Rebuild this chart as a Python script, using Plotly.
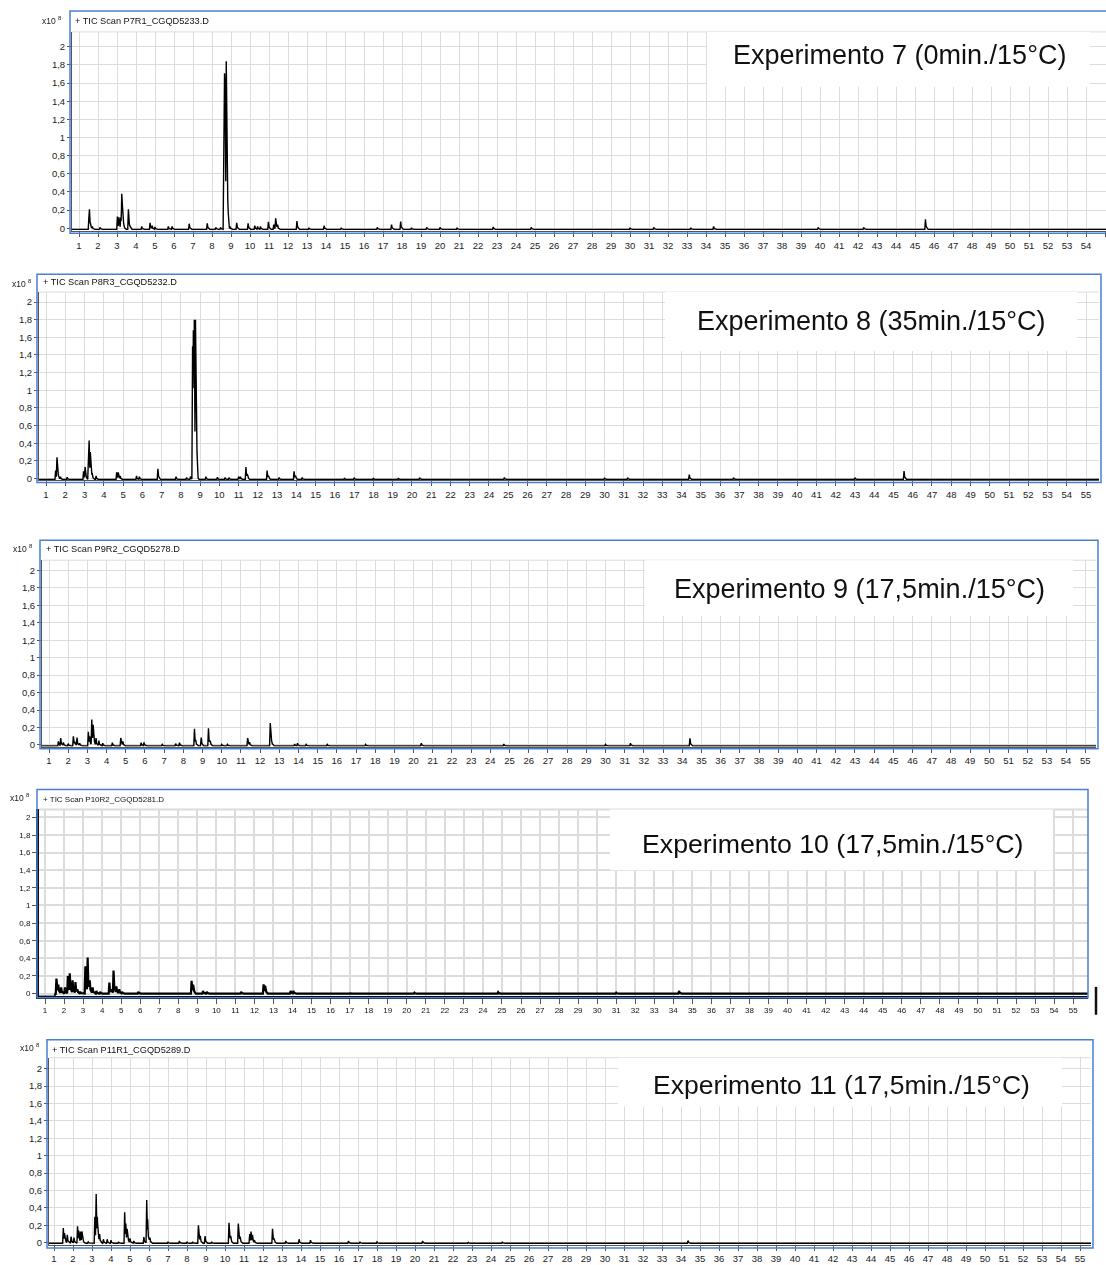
import numpy as np
import plotly.graph_objects as go

W, H = 1106, 1265

# ---------------- data ----------------
minutes = list(range(1, 56))
intensity_ticks = [0, 0.2, 0.4, 0.6, 0.8, 1.0, 1.2, 1.4, 1.6, 1.8, 2.0]
intensity_labels = ["0", "0,2", "0,4", "0,6", "0,8", "1", "1,2", "1,4", "1,6", "1,8", "2"]

scan_names = [
    "+ TIC Scan P7R1_CGQD5233.D",
    "+ TIC Scan P8R3_CGQD5232.D",
    "+ TIC Scan P9R2_CGQD5278.D",
    "+ TIC Scan P10R2_CGQD5281.D",
    "+ TIC Scan P11R1_CGQD5289.D",
]
experiment_labels = [
    "Experimento 7 (0min./15°C)",
    "Experimento 8 (35min./15°C)",
    "Experimento 9 (17,5min./15°C)",
    "Experimento 10 (17,5min./15°C)",
    "Experimento 11 (17,5min./15°C)",
]

# peak apexes: retention time (min) and abundance (x10^8)
p7_rt = [1.52, 1.55, 1.60, 1.70, 2.10, 3.02, 3.10, 3.20, 3.25, 3.28, 3.35, 3.60, 3.65, 4.30, 4.74,
         4.85, 5.00, 5.70, 5.90, 6.80, 7.75, 8.20, 8.45, 8.62, 8.66, 8.69, 8.75, 8.82, 8.95, 9.30,
         9.90, 10.25, 10.40, 10.55, 10.97, 11.25, 11.35, 11.45, 12.47, 13.10, 13.90, 14.80, 16.70,
         17.45, 17.93, 18.50, 19.30, 20.00, 20.90, 22.80, 24.80, 30.00, 31.25, 33.20, 34.40, 39.90,
         42.30, 45.55]
p7_h = [0.12, 0.21, 0.06, 0.02, 0.01, 0.13, 0.12, 0.12, 0.38, 0.27, 0.05, 0.21, 0.04, 0.02, 0.06,
        0.03, 0.015, 0.02, 0.02, 0.05, 0.055, 0.01, 0.01, 1.50, 1.71, 1.55, 1.84, 0.06, 0.02, 0.06,
        0.055, 0.03, 0.02, 0.02, 0.07, 0.04, 0.11, 0.04, 0.08, 0.005, 0.03, 0.005, 0.01,
        0.04, 0.075, 0.005, 0.01, 0.01, 0.005, 0.015, 0.01, 0.005, 0.01, 0.005, 0.02, 0.01,
        0.01, 0.10]

p8_rt = [1.50, 1.57, 1.62, 1.75, 2.10, 2.95, 3.03, 3.20, 3.24, 3.30, 3.40, 3.60, 4.67, 4.75, 4.85,
         5.70, 5.85, 6.81, 7.75, 8.30, 8.50, 8.61, 8.65, 8.70, 8.76, 8.82, 9.30, 9.90, 10.30, 10.50,
         11.00, 11.10, 11.38, 11.45, 12.48, 12.55, 13.10, 13.88, 13.95, 14.30, 16.50, 17.00, 18.00,
         19.30, 20.40, 24.80, 30.00, 31.20, 34.40, 36.70, 43.00, 45.55]
p8_h = [0.09, 0.24, 0.05, 0.02, 0.015, 0.08, 0.13, 0.15, 0.43, 0.30, 0.06, 0.03, 0.07, 0.07, 0.03,
        0.03, 0.02, 0.11, 0.02, 0.01, 0.02, 1.50, 1.68, 1.80, 1.80, 0.07, 0.02, 0.015, 0.01, 0.01,
        0.02, 0.02, 0.13, 0.05, 0.09, 0.03, 0.01, 0.08, 0.03, 0.01, 0.005, 0.01, 0.005,
        0.005, 0.01, 0.01, 0.008, 0.01, 0.045, 0.01, 0.01, 0.083]

p9_rt = [1.49, 1.61, 1.75, 2.00, 2.27, 2.35, 2.46, 2.60, 3.05, 3.12, 3.23, 3.30, 3.45, 3.60, 3.80,
         4.30, 4.74, 4.85, 5.80, 5.95, 6.90, 7.60, 7.80, 8.58, 8.65, 8.93, 9.31, 9.40, 10.00, 10.30,
         11.35, 11.45, 12.53, 12.60, 13.80, 13.95, 14.40, 15.50, 17.50, 20.40, 24.70, 30.00, 31.30,
         34.40]
p9_h = [0.04, 0.08, 0.03, 0.015, 0.10, 0.03, 0.085, 0.02, 0.15, 0.10, 0.29, 0.23, 0.08, 0.05, 0.02,
        0.025, 0.08, 0.04, 0.025, 0.03, 0.005, 0.015, 0.025, 0.185, 0.05, 0.085, 0.19, 0.05, 0.005, 0.005,
        0.08, 0.03, 0.25, 0.05, 0.01, 0.02, 0.005, 0.005, 0.005, 0.02, 0.01, 0.005, 0.02,
        0.075]

p10_rt = [1.60, 1.70, 1.85, 2.05, 2.20, 2.30, 2.45, 2.60, 2.70, 2.85, 3.12, 3.24, 3.35, 3.50, 3.70,
          3.90, 4.38, 4.50, 4.60, 4.75, 4.90, 5.05, 5.90, 8.70, 8.78, 9.30, 9.50, 11.30, 12.48, 12.56,
          13.90, 14.05, 17.00, 20.40, 24.80, 31.00, 34.30]
p10_h = [0.17, 0.10, 0.07, 0.07, 0.20, 0.23, 0.15, 0.13, 0.05, 0.02, 0.31, 0.41, 0.15, 0.07, 0.03,
         0.02, 0.125, 0.05, 0.26, 0.08, 0.05, 0.02, 0.02, 0.145, 0.10, 0.03, 0.02, 0.02, 0.105, 0.09,
         0.03, 0.03, 0.005, 0.01, 0.015, 0.01, 0.03]

p11_rt = [1.49, 1.55, 1.70, 1.90, 2.05, 2.24, 2.30, 2.40, 2.47, 2.55, 2.80, 3.15, 3.22, 3.28, 3.40,
          3.60, 3.80, 4.00, 4.40, 4.72, 4.78, 4.85, 5.00, 5.20, 5.73, 5.88, 5.93, 6.05, 7.00, 7.60,
          8.00, 8.30, 8.60, 8.70, 8.95, 9.30, 10.21, 10.30, 10.70, 10.80, 11.30, 11.37, 11.45, 11.55,
          12.50, 12.58, 13.20, 13.90, 14.50, 16.50, 17.10, 18.00, 20.40, 22.80, 24.60, 34.37]
p11_h = [0.17, 0.11, 0.09, 0.07, 0.06, 0.19, 0.14, 0.13, 0.13, 0.02, 0.01, 0.30, 0.56, 0.30, 0.10,
         0.04, 0.04, 0.03, 0.01, 0.35, 0.22, 0.16, 0.05, 0.02, 0.065, 0.49, 0.27, 0.06, 0.01, 0.02,
         0.01, 0.01, 0.20, 0.08, 0.076, 0.01, 0.23, 0.08, 0.22, 0.07, 0.10, 0.13, 0.09, 0.03,
         0.16, 0.05, 0.02, 0.04, 0.03, 0.02, 0.01, 0.01, 0.02, 0.005, 0.01, 0.025]

# baseline level of each run (time, abundance)
p7_base_t, p7_base_v = [0.5, 55.5], [-0.012, -0.012]
p8_base_t, p8_base_v = [0.5, 55.5], [-0.012, -0.012]
p9_base_t, p9_base_v = [0.5, 55.5], [-0.011, -0.011]
p10_base_t, p10_base_v = [0.5, 1.50, 1.55, 55.5], [-0.035, -0.035, 0.0, 0.0]
p11_base_t, p11_base_v = [0.5, 55.5], [-0.006, -0.006]

runs = [
    (p7_rt, p7_h, p7_base_t, p7_base_v),
    (p8_rt, p8_h, p8_base_t, p8_base_v),
    (p9_rt, p9_h, p9_base_t, p9_base_v),
    (p10_rt, p10_h, p10_base_t, p10_base_v),
    (p11_rt, p11_h, p11_base_t, p11_base_v),
]

# ---------------- panel geometry (pixels) ----------------
# frame: blue box; plot: grid area; x1/ppm: pixel of minute 1 and px per minute;
# y0/ppu: pixel of zero abundance and px per unit
panels = [
    dict(frame=(70, 11, 1108, 234), plot=(72, 32, 1106, 232), x1=79, ppm=19.0, y0=229.0, ppu=91.0,
         head=(73, 21), mult=(64, 21), box=(707, 32, 1090, 87), label=(899, 55), lsize=27),
    dict(frame=(37, 275, 1101, 484), plot=(39, 293, 1099, 482), x1=46, ppm=19.26, y0=480.0, ppu=88.5,
         head=(41, 283), mult=(34, 284), box=(665, 293, 1077, 352), label=(871, 322), lsize=27),
    dict(frame=(40, 542, 1098, 751), plot=(42, 562, 1096, 749), x1=49, ppm=19.19, y0=747.3, ppu=87.5,
         head=(44, 551), mult=(35, 550), box=(645, 562, 1073, 618), label=(859, 591), lsize=27),
    dict(frame=(37, 792, 1088, 1001), plot=(39, 812, 1088, 999), x1=45, ppm=19.04, y0=996.7, ppu=88.35,
         head=(41, 802), mult=(32, 800), box=(610, 812, 1053, 873), label=(833, 847), lsize=26.7),
    dict(frame=(47, 1043, 1093, 1252), plot=(49, 1061, 1091, 1249), x1=54, ppm=19.0, y0=1246.7, ppu=87.3,
         head=(50, 1053), mult=(42, 1051), box=(618, 1061, 1062, 1110), label=(841, 1088), lsize=26.5),
]

BLUE = "#4a7ed6"
GRID = "#dcdcdc"
FONT = "Liberation Sans, Arial, sans-serif"
SOFT_PANEL = 3  # the fourth run was captured at low resolution


def px(x):
    return x / W


def py(y):
    return 1 - y / H


def chromatogram(rt, h, base_t, base_v, t_start, t_end):
    """Polyline through the peak apexes; each peak is a sharp tailing spike."""
    def base(x):
        return float(np.interp(x, base_t, base_v))

    spikes = []
    xs = {t_start, t_end, *base_t}
    for t, v in zip(rt, h):
        b = base(t)
        sx = [t - 0.035, t, t + 0.035, t + 0.14]
        sy = [b, v, b + 0.3 * (v - b), b]
        spikes.append((sx, sy))
        xs.update(sx)
    xs = sorted(x for x in xs if t_start <= x <= t_end)
    ys = []
    for x in xs:
        y = base(x)
        for sx, sy in spikes:
            if sx[0] <= x <= sx[-1]:
                y = max(y, float(np.interp(x, sx, sy)))
        ys.append(y)
    return xs, ys


fig = go.Figure()
shapes, annotations = [], []

for i, (p, run) in enumerate(zip(panels, runs)):
    k = "" if i == 0 else str(i + 1)
    soft = i == SOFT_PANEL
    L, T, R, B = p["plot"]
    xr = [1 + (L - p["x1"]) / p["ppm"], 1 + (R - p["x1"]) / p["ppm"]]
    yr = [(p["y0"] - B) / p["ppu"], (p["y0"] - T) / p["ppu"]]

    xs, ys = chromatogram(*run, xr[0], xr[1])
    fig.add_trace(go.Scatter(
        x=xs, y=ys, mode="lines", xaxis="x" + k, yaxis="y" + k,
        line=dict(color="black", width=2.2 if soft else 1.4),
        hoverinfo="skip", showlegend=False,
    ))

    tick_font = dict(family=FONT, size=8 if soft else 9.5, color="#111" if soft else "#222")
    fig.update_layout({
        "xaxis" + k: dict(
            domain=[px(L), min(px(R), 1.0)], range=xr, anchor="y" + k,
            tickmode="array", tickvals=minutes, ticktext=[str(m) for m in minutes],
            ticks="outside", ticklen=5, tickcolor="#555", tickfont=tick_font,
            showgrid=True, gridcolor=GRID, gridwidth=2 if soft else 1,
            showline=True, linecolor="#111" if soft else "#555", linewidth=3 if soft else 1,
            zeroline=False, fixedrange=True,
        ),
        "yaxis" + k: dict(
            domain=[py(B), py(T)], range=yr, anchor="x" + k,
            tickmode="array", tickvals=intensity_ticks, ticktext=intensity_labels,
            ticks="outside", ticklen=4, tickcolor="#555", tickfont=tick_font,
            showgrid=True, gridcolor=GRID, gridwidth=2 if soft else 1,
            showline=True, linecolor="#111" if soft else "#555", linewidth=3 if soft else 1,
            zeroline=False, fixedrange=True,
        ),
    })

    # top edge of the grid
    shapes.append(dict(type="line", xref="paper", yref="paper",
                       x0=px(L), x1=px(R), y0=py(T), y1=py(T),
                       line=dict(color=GRID, width=2 if soft else 1), layer="below"))

    # white panel behind the experiment title
    bx0, by0, bx1, by1 = p["box"]
    shapes.append(dict(type="rect", xref="paper", yref="paper",
                       x0=px(bx0), x1=px(bx1), y0=py(by1), y1=py(by0),
                       fillcolor="white", line=dict(width=0), layer="above"))

    # blue frame around the chromatogram
    fx0, fy0, fx1, fy1 = p["frame"]
    shapes.append(dict(type="rect", xref="paper", yref="paper",
                       x0=px(fx0), x1=px(fx1), y0=py(fy1), y1=py(fy0),
                       line=dict(color=BLUE, width=1.5), fillcolor="rgba(0,0,0,0)", layer="above"))

    hx, hy = p["head"]
    annotations.append(dict(text=scan_names[i], xref="paper", yref="paper", x=px(hx), y=py(hy),
                            xanchor="left", yanchor="middle", showarrow=False,
                            font=dict(family=FONT, size=8 if soft else 9.2, color="#111")))
    mx, my = p["mult"]
    annotations.append(dict(text="x10 <sup>8</sup>", xref="paper", yref="paper", x=px(mx), y=py(my),
                            xanchor="right", yanchor="middle", showarrow=False,
                            font=dict(family=FONT, size=8.5, color="#222")))
    lx, ly = p["label"]
    annotations.append(dict(text=experiment_labels[i], xref="paper", yref="paper", x=px(lx), y=py(ly),
                            xanchor="center", yanchor="middle", showarrow=False,
                            font=dict(family=FONT, size=p["lsize"], color="#111")))

# stray heavy mark at the right end of the fourth run's axis
shapes.append(dict(type="line", xref="paper", yref="paper",
                   x0=px(1096), x1=px(1096), y0=py(990), y1=py(1018),
                   line=dict(color="#111", width=2.5)))

fig.update_layout(
    width=W, height=H, autosize=False,
    margin=dict(l=0, r=0, t=0, b=0, pad=0),
    paper_bgcolor="white", plot_bgcolor="white",
    shapes=shapes, annotations=annotations,
    showlegend=False,
)

# soften the low-resolution fourth panel (its subplot and its three annotations)
soft_js = """
(function () {
  var gd = document.getElementById('{plot_id}');
  var svg = gd.querySelector('svg.main-svg');
  var ns = 'http://www.w3.org/2000/svg';
  var defs = svg.querySelector('defs') || svg.insertBefore(document.createElementNS(ns, 'defs'), svg.firstChild);
  var f = document.createElementNS(ns, 'filter');
  f.setAttribute('id', 'soften4');
  f.setAttribute('x', '-5%'); f.setAttribute('y', '-20%');
  f.setAttribute('width', '110%'); f.setAttribute('height', '140%');
  var b = document.createElementNS(ns, 'feGaussianBlur');
  b.setAttribute('stdDeviation', '0.75');
  f.appendChild(b);
  defs.appendChild(f);
  gd.querySelectorAll('g.subplot.x4y4').forEach(function (el) {
    el.setAttribute('filter', 'url(#soften4)');
  });
  [9, 10, 11].forEach(function (idx) {
    var a = gd.querySelector('g.annotation[data-index="' + idx + '"]');
    if (a) { a.setAttribute('filter', 'url(#soften4)'); }
  });
})();
"""

fig.write_html("out.html", include_plotlyjs=True,
               config={"displayModeBar": False, "staticPlot": True},
               post_script=soft_js)
